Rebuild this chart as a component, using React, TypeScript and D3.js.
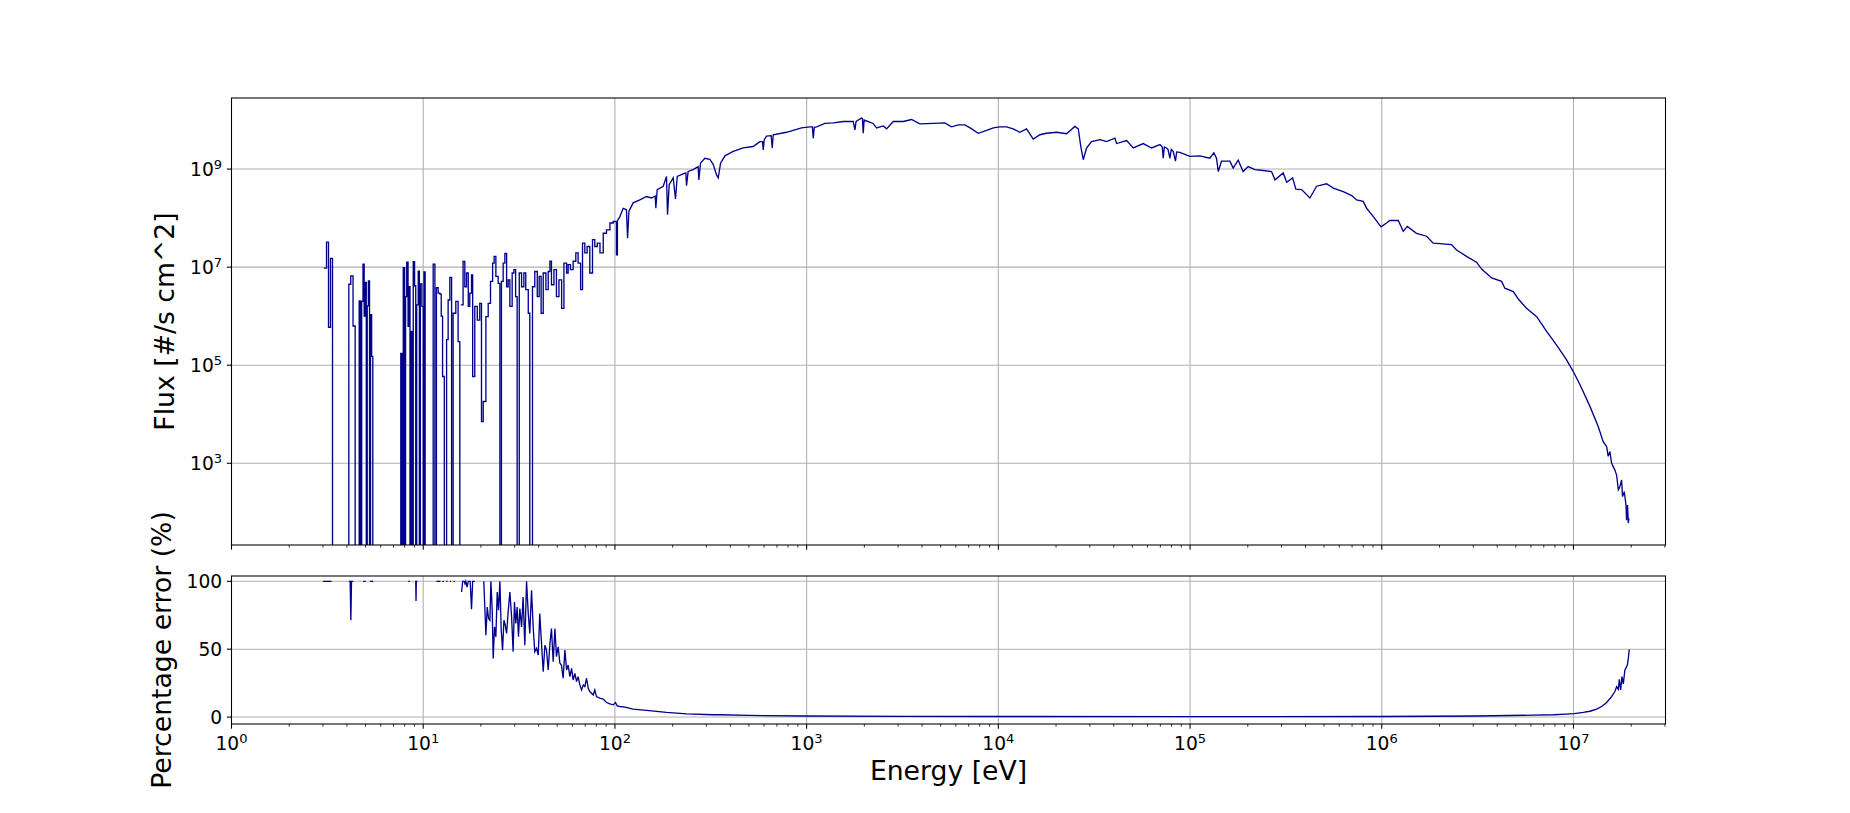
import React from "react";
import * as d3 from "d3";

// ---------------- data ----------------
// x axis: energy in eV (log), values stored as log10(E)
// flux stored as log10(flux in #/s cm^2); null = zero flux (drops off the log axis)

const xLimits = [1, 3.02e7];
const fluxLimitsLog10 = [1.333, 10.449];
const errorLimits = [-5.1, 103.9];
const xMajorExponents = [0, 1, 2, 3, 4, 5, 6, 7];
const fluxTickExponents = [3, 5, 7, 9];
const errorTicks = [0, 50, 100];

// low-energy bins, drawn as steps: [log10 E, log10 flux | null]
const fluxLowBins: [number, number | null][] = [
  [0.4815, 6.98], [0.4956, 7.51], [0.506, 5.77], [0.5164, 7.18], [0.5269, null],
  [0.612, 6.65], [0.622, 6.82], [0.634, 5.8], [0.645, null],
  [0.666, 6.31], [0.673, null], [0.679, 6.3], [0.686, 7.06], [0.692, 6.0], [0.697, 6.69], [0.703, null],
  [0.708, 6.21], [0.714, 6.72], [0.72, null], [0.725, 6.03], [0.731, 5.18], [0.737, null],
  [0.883, 5.24], [0.889, null], [0.896, 6.99], [0.903, null], [0.908, 6.4], [0.914, 7.1], [0.921, 5.79],
  [0.925, 6.6], [0.931, null], [0.937, 5.69], [0.943, null], [0.948, 7.11], [0.955, 6.62], [0.961, null],
  [0.966, 6.23], [0.974, 6.92], [0.98, null], [0.985, 6.66], [0.993, 6.2], [1.0, null], [1.004, 6.9], [1.01, null],
  [1.052, 7.06], [1.061, null], [1.069, 6.58], [1.078, 6.47], [1.087, 6.45], [1.094, 6.0], [1.101, 4.77],
  [1.11, null], [1.122, 5.52], [1.13, 6.33], [1.139, 6.79], [1.148, null], [1.156, 6.06], [1.17, 6.3],
  [1.182, 5.48], [1.191, null],
];

const fluxNoisyBins: [number, number | null][] = [
  [1.196, 6.23], [1.208, 7.115], [1.217, 6.6], [1.226, 6.88], [1.235, 6.2], [1.243, 6.47], [1.252, 6.84],
  [1.258, 4.77], [1.269, 6.2], [1.282, 5.92], [1.295, 6.26], [1.304, 3.85], [1.313, 4.26], [1.327, 5.99],
  [1.339, 6.26], [1.351, 6.71], [1.362, 7.08], [1.37, 7.22], [1.379, 6.81], [1.391, 6.67], [1.4, null],
  [1.408, 6.71], [1.417, 7.08], [1.426, 7.28], [1.435, 6.6], [1.443, 6.74], [1.452, 6.2], [1.464, 6.88],
  [1.473, 6.95], [1.482, 6.4], [1.49, null], [1.501, 6.88], [1.513, 6.6], [1.525, 6.88], [1.535, 6.54],
  [1.548, 6.06], [1.556, null], [1.57, 6.6], [1.582, 6.91], [1.595, 6.4], [1.605, 6.81], [1.615, 6.06],
  [1.626, 6.88], [1.64, 6.54], [1.652, 6.91], [1.661, 7.12], [1.669, 6.64], [1.682, 6.95], [1.695, 6.4],
  [1.708, 6.74], [1.722, 6.16], [1.734, 7.08], [1.748, 6.88], [1.756, 7.05], [1.768, 6.95], [1.782, 7.12],
  [1.796, 7.29], [1.808, 7.08], [1.821, 6.54], [1.831, 7.49], [1.843, 7.29], [1.855, 7.42], [1.869, 6.88],
  [1.883, 7.56], [1.895, 7.42], [1.908, 7.49], [1.922, 7.29], [1.939, 7.69], [1.956, 7.76], [1.974, 7.9],
  [1.991, 7.93], [2.008, 7.25], [2.013, 7.95],
];

// smooth part of the spectrum, drawn as a line: [log10 E, log10 flux]
const fluxContinuum: [number, number][] = [
  [2.013, 7.95], [2.026, 8.03], [2.043, 8.2], [2.06, 8.17], [2.066, 7.59], [2.073, 8.14], [2.095, 8.31],
  [2.13, 8.37], [2.165, 8.44], [2.191, 8.41], [2.21, 8.45], [2.2135, 8.2], [2.2205, 8.58], [2.252, 8.65],
  [2.269, 8.85], [2.2744, 8.07], [2.283, 8.68], [2.304, 8.82], [2.316, 8.39], [2.325, 8.85], [2.356, 8.9],
  [2.37, 8.92], [2.3735, 8.66], [2.382, 8.95], [2.408, 8.99], [2.434, 9.05], [2.4378, 8.78], [2.4465, 9.12],
  [2.469, 9.22], [2.495, 9.2], [2.513, 9.09], [2.53, 8.88], [2.539, 8.82], [2.551, 9.12], [2.574, 9.27],
  [2.617, 9.36], [2.669, 9.43], [2.721, 9.46], [2.756, 9.56], [2.77, 9.56], [2.7735, 9.39], [2.779, 9.6],
  [2.791, 9.67], [2.815, 9.68], [2.8205, 9.43], [2.826, 9.7], [2.895, 9.75], [2.93, 9.79], [2.973, 9.84],
  [3.017, 9.86], [3.03, 9.86], [3.0344, 9.63], [3.04, 9.85], [3.052, 9.86], [3.095, 9.93], [3.139, 9.94],
  [3.191, 9.97], [3.243, 9.97], [3.2518, 9.8], [3.258, 9.97], [3.2865, 10.04], [3.291, 10.03], [3.2952, 9.73],
  [3.3, 10.0], [3.347, 9.93], [3.365, 9.84], [3.4, 9.88], [3.417, 9.82], [3.452, 9.97], [3.504, 9.97],
  [3.547, 10.01], [3.591, 9.92], [3.661, 9.93], [3.721, 9.94], [3.756, 9.86], [3.791, 9.9], [3.826, 9.9],
  [3.861, 9.82], [3.895, 9.73], [3.939, 9.79], [3.974, 9.84], [4.008, 9.86],
  [4.043, 9.86], [4.077, 9.82], [4.112, 9.75], [4.147, 9.82], [4.182, 9.61], [4.217, 9.7], [4.251, 9.73],
  [4.304, 9.75], [4.356, 9.72], [4.399, 9.87], [4.417, 9.82], [4.43, 9.46], [4.443, 9.19], [4.46, 9.43],
  [4.486, 9.56], [4.53, 9.6], [4.564, 9.56], [4.608, 9.63], [4.617, 9.52], [4.669, 9.58], [4.704, 9.43],
  [4.756, 9.52], [4.799, 9.43], [4.843, 9.5], [4.855, 9.45], [4.86, 9.22], [4.866, 9.45], [4.877, 9.43],
  [4.885, 9.4], [4.895, 9.22], [4.902, 9.4], [4.912, 9.36], [4.924, 9.16], [4.93, 9.35], [4.947, 9.34],
  [4.999, 9.26], [5.051, 9.27], [5.103, 9.22], [5.124, 9.33], [5.138, 9.22], [5.147, 8.95], [5.164, 9.16],
  [5.208, 9.16], [5.225, 9.02], [5.251, 9.18], [5.277, 8.95], [5.303, 9.05], [5.338, 8.99], [5.382, 8.97],
  [5.425, 8.95], [5.443, 8.78], [5.486, 8.92], [5.504, 8.73], [5.535, 8.82], [5.552, 8.59], [5.582, 8.58],
  [5.625, 8.41], [5.66, 8.65], [5.712, 8.7], [5.747, 8.61], [5.799, 8.54], [5.843, 8.46], [5.869, 8.37],
  [5.903, 8.34], [5.921, 8.2], [5.956, 8.03], [5.996, 7.82],
  [6.025, 7.9], [6.042, 7.95], [6.086, 7.95], [6.112, 7.73], [6.133, 7.83], [6.181, 7.69], [6.234, 7.63],
  [6.268, 7.49], [6.303, 7.48], [6.364, 7.46], [6.39, 7.35], [6.442, 7.22], [6.494, 7.1], [6.521, 6.96],
  [6.573, 6.78], [6.625, 6.71], [6.642, 6.57], [6.686, 6.5], [6.712, 6.35], [6.755, 6.16], [6.808, 5.99],
  [6.86, 5.69], [6.912, 5.41], [6.964, 5.11], [6.999, 4.87], [7.034, 4.6], [7.086, 4.16], [7.129, 3.75],
  [7.155, 3.44], [7.173, 3.34], [7.181, 3.14], [7.19, 3.24], [7.199, 3.0], [7.216, 2.86], [7.225, 2.76],
  [7.234, 2.46], [7.242, 2.52], [7.251, 2.66], [7.256, 2.32], [7.265, 2.42], [7.274, 2.15], [7.277, 1.84],
  [7.282, 2.15], [7.286, 1.78], [7.289, 1.88],
];

// percentage error: [log10 E, percent | null (gap)]
const errorLowBins: [number, number | null][] = [
  [0.478, 100], [0.522, 100], [0.525, null],
  [0.612, 100], [0.619, 100], [0.6225, 71.3], [0.626, 100], [0.635, 100], [0.64, null],
  [0.687, 100], [0.7, 100], [0.71, null], [0.722, 100], [0.739, 100], [0.745, null],
  [0.922, 100], [0.93, 100], [0.935, null],
  [0.958, 100], [0.961, 100], [0.9625, 85.5], [0.964, 100], [0.97, 100], [0.975, null],
  [1.069, 100], [1.09, 100], [1.095, null], [1.1, 100], [1.108, 100], [1.11, null], [1.12, 100],
  [1.127, 100], [1.13, null], [1.14, 100], [1.146, 100], [1.15, null], [1.158, 100], [1.165, 100], [1.17, null],
  [1.2, 92.1], [1.206, 100], [1.214, 100], [1.218, 98.2], [1.222, 100], [1.229, 95.8], [1.235, 100],
  [1.245, 100], [1.252, 79.4], [1.258, 100], [1.269, 100], [1.275, null],
];

const errorMain: [number, number][] = [
  [1.316, 100], [1.327, 60.3], [1.334, 81.1], [1.341, 72.6], [1.348, 71.3], [1.353, 100], [1.36, 78.7],
  [1.365, 43.2], [1.372, 66.4], [1.379, 59.1], [1.386, 92.1], [1.393, 78.7], [1.4, 100], [1.407, 64.0],
  [1.414, 49.3], [1.421, 71.3], [1.428, 67.7], [1.435, 61.6], [1.443, 77.4], [1.452, 92.1], [1.461, 73.8],
  [1.469, 48.1], [1.476, 84.8], [1.483, 68.9], [1.49, 81.1], [1.497, 59.1], [1.504, 79.9], [1.513, 66.4],
  [1.521, 88.4], [1.53, 53.0], [1.539, 100], [1.548, 76.2], [1.556, 61.6], [1.565, 93.3], [1.574, 65.2],
  [1.582, 48.1], [1.591, 50.6], [1.6, 45.7], [1.608, 76.2], [1.617, 54.2], [1.626, 33.5], [1.635, 53.0],
  [1.643, 49.3], [1.652, 34.7], [1.661, 54.2], [1.669, 65.2], [1.678, 40.8], [1.687, 65.2], [1.695, 44.5],
  [1.704, 51.8], [1.713, 39.6], [1.721, 38.3], [1.73, 28.6], [1.739, 49.3], [1.748, 34.7], [1.756, 38.3],
  [1.765, 29.8], [1.774, 35.9], [1.782, 27.3], [1.791, 32.2], [1.8, 26.1], [1.808, 29.8], [1.817, 23.7],
  [1.826, 20.0], [1.835, 23.7], [1.843, 22.5], [1.852, 28.6], [1.861, 21.2], [1.869, 18.8], [1.887, 16.3],
  [1.895, 20.0], [1.904, 15.1], [1.921, 13.9], [1.939, 13.2], [1.956, 10.7], [1.974, 9.7], [1.991, 9.0],
  [2.003, 10.7], [2.012, 8.3], [2.026, 7.8], [2.052, 7.3], [2.095, 5.8], [2.165, 4.9], [2.269, 3.4],
  [2.374, 2.4], [2.513, 1.7], [2.548, 1.7], [2.7, 1.2], [3.0, 0.8], [3.5, 0.5], [4.0, 0.4], [5.0, 0.35],
  [6.0, 0.4], [6.5, 0.8], [6.79, 1.4], [6.895, 1.7], [6.964, 2.2], [7.004, 2.6], [7.051, 3.4], [7.086, 4.3],
  [7.121, 5.8], [7.147, 7.8], [7.173, 10.7], [7.199, 15.1], [7.216, 18.8], [7.225, 22.4], [7.234, 20.5],
  [7.239, 27.8], [7.246, 20.0], [7.253, 29.8], [7.26, 24.4], [7.268, 34.6], [7.281, 38.3], [7.286, 43.2],
  [7.291, 49.8],
];

// ---------------- layout ----------------
const W = 1850;
const H = 813;
const LEFT = 231.5;
const RIGHT = 1665.5;
const TOP_PANEL = { y0: 98, y1: 545 };
const BOT_PANEL = { y0: 576, y1: 724 };
const LINE_COLOR = "#00008b";
const GRID_COLOR = "#b0b0b0";
const FONT = "'DejaVu Sans', sans-serif";
const TICK_FS = 18.67;
const LABEL_FS = 26.67;
const MAJOR_LEN = 4.67;
const MINOR_LEN = 2.67;
const PAD = 4.67;
const SPINE_W = 1.07;

export default function App() {
  const x = d3.scaleLog().domain(xLimits).range([LEFT, RIGHT]);
  const yFlux = d3
    .scaleLog()
    .domain([10 ** fluxLimitsLog10[0], 10 ** fluxLimitsLog10[1]])
    .range([TOP_PANEL.y1, TOP_PANEL.y0]);
  const yErr = d3.scaleLinear().domain(errorLimits).range([BOT_PANEL.y1, BOT_PANEL.y0]);

  const belowAxis = TOP_PANEL.y1 + 30;

  const stepLine = d3
    .line<[number, number | null]>()
    .curve(d3.curveStepAfter)
    .x((d) => x(10 ** d[0]))
    .y((d) => (d[1] == null ? belowAxis : yFlux(10 ** d[1])));

  const fluxLine = d3
    .line<[number, number]>()
    .x((d) => x(10 ** d[0]))
    .y((d) => yFlux(10 ** d[1]));

  const errLine = d3
    .line<[number, number | null]>()
    .defined((d) => d[1] != null)
    .x((d) => x(10 ** d[0]))
    .y((d) => yErr(d[1] as number));

  const majors = xMajorExponents.map((k) => 10 ** k);
  const minors: number[] = [];
  xMajorExponents.forEach((k) => {
    for (let s = 2; s <= 9; s++) {
      const v = s * 10 ** k;
      if (v <= xLimits[1]) minors.push(v);
    }
  });

  const xTicksMarks = (yBase: number, keyp: string) => (
    <g key={keyp}>
      {majors.map((v, i) => (
        <line key={"M" + i} x1={x(v)} x2={x(v)} y1={yBase} y2={yBase + MAJOR_LEN} stroke="#000" strokeWidth={SPINE_W} />
      ))}
      {minors.map((v, i) => (
        <line key={"m" + i} x1={x(v)} x2={x(v)} y1={yBase} y2={yBase + MINOR_LEN} stroke="#000" strokeWidth={0.8} />
      ))}
    </g>
  );

  return (
    <svg
      width={W}
      height={H}
      style={{ position: "absolute", left: 0, top: 0, display: "block" }}
      fontFamily={FONT}
    >
      <rect x={0} y={0} width={W} height={H} fill="#fff" />
      <defs>
        <clipPath id="clipTop">
          <rect x={LEFT} y={TOP_PANEL.y0} width={RIGHT - LEFT} height={TOP_PANEL.y1 - TOP_PANEL.y0} />
        </clipPath>
        <clipPath id="clipBot">
          <rect x={LEFT} y={BOT_PANEL.y0} width={RIGHT - LEFT} height={BOT_PANEL.y1 - BOT_PANEL.y0} />
        </clipPath>
      </defs>

      {/* ---------- top panel ---------- */}
      <g>
        {majors.map((v, i) => (
          <line key={i} x1={x(v)} x2={x(v)} y1={TOP_PANEL.y0} y2={TOP_PANEL.y1} stroke={GRID_COLOR} strokeWidth={SPINE_W} />
        ))}
        {fluxTickExponents.map((k) => (
          <line key={k} x1={LEFT} x2={RIGHT} y1={yFlux(10 ** k)} y2={yFlux(10 ** k)} stroke={GRID_COLOR} strokeWidth={SPINE_W} />
        ))}
        <g clipPath="url(#clipTop)" fill="none" stroke={LINE_COLOR} strokeWidth={1.33} strokeLinejoin="miter">
          <path d={stepLine(fluxLowBins) || ""} />
          <path d={stepLine(fluxNoisyBins) || ""} />
          <path d={fluxLine(fluxContinuum) || ""} />
        </g>
        <rect x={LEFT} y={TOP_PANEL.y0} width={RIGHT - LEFT} height={TOP_PANEL.y1 - TOP_PANEL.y0} fill="none" stroke="#000" strokeWidth={SPINE_W} />
        {xTicksMarks(TOP_PANEL.y1, "tt")}
        {fluxTickExponents.map((k) => {
          const yy = yFlux(10 ** k);
          return (
            <g key={k}>
              <line x1={LEFT - MAJOR_LEN} x2={LEFT} y1={yy} y2={yy} stroke="#000" strokeWidth={SPINE_W} />
              <text x={LEFT - MAJOR_LEN - PAD} y={yy + 6.8} textAnchor="end" fontSize={TICK_FS} fill="#000">
                <tspan>10</tspan>
                <tspan dy={-7} fontSize={13.07}>{k}</tspan>
              </text>
            </g>
          );
        })}
        <text
          transform={`translate(174,${(TOP_PANEL.y0 + TOP_PANEL.y1) / 2}) rotate(-90)`}
          textAnchor="middle"
          fontSize={LABEL_FS}
          fill="#000"
        >
          Flux [#/s cm^2]
        </text>
      </g>

      {/* ---------- bottom panel ---------- */}
      <g>
        {majors.map((v, i) => (
          <line key={i} x1={x(v)} x2={x(v)} y1={BOT_PANEL.y0} y2={BOT_PANEL.y1} stroke={GRID_COLOR} strokeWidth={SPINE_W} />
        ))}
        {errorTicks.map((t) => (
          <line key={t} x1={LEFT} x2={RIGHT} y1={yErr(t)} y2={yErr(t)} stroke={GRID_COLOR} strokeWidth={SPINE_W} />
        ))}
        <g clipPath="url(#clipBot)" fill="none" stroke={LINE_COLOR} strokeWidth={1.33}>
          <path d={errLine(errorLowBins) || ""} />
          <path d={errLine(errorMain as [number, number | null][]) || ""} />
        </g>
        <rect x={LEFT} y={BOT_PANEL.y0} width={RIGHT - LEFT} height={BOT_PANEL.y1 - BOT_PANEL.y0} fill="none" stroke="#000" strokeWidth={SPINE_W} />
        {xTicksMarks(BOT_PANEL.y1, "bt")}
        {xMajorExponents.map((k) => (
          <text key={k} x={x(10 ** k)} y={750} textAnchor="middle" fontSize={TICK_FS} fill="#000">
            <tspan>10</tspan>
            <tspan dy={-7} fontSize={13.07}>{k}</tspan>
          </text>
        ))}
        {errorTicks.map((t) => {
          const yy = yErr(t);
          return (
            <g key={t}>
              <line x1={LEFT - MAJOR_LEN} x2={LEFT} y1={yy} y2={yy} stroke="#000" strokeWidth={SPINE_W} />
              <text x={LEFT - MAJOR_LEN - PAD} y={yy + 6.8} textAnchor="end" fontSize={TICK_FS} fill="#000">
                {t}
              </text>
            </g>
          );
        })}
        <text
          transform={`translate(170.7,${(BOT_PANEL.y0 + BOT_PANEL.y1) / 2}) rotate(-90)`}
          textAnchor="middle"
          fontSize={LABEL_FS}
          fill="#000"
        >
          Percentage error (%)
        </text>
        <text x={(LEFT + RIGHT) / 2} y={780} textAnchor="middle" fontSize={LABEL_FS} fill="#000">
          Energy [eV]
        </text>
      </g>
    </svg>
  );
}
